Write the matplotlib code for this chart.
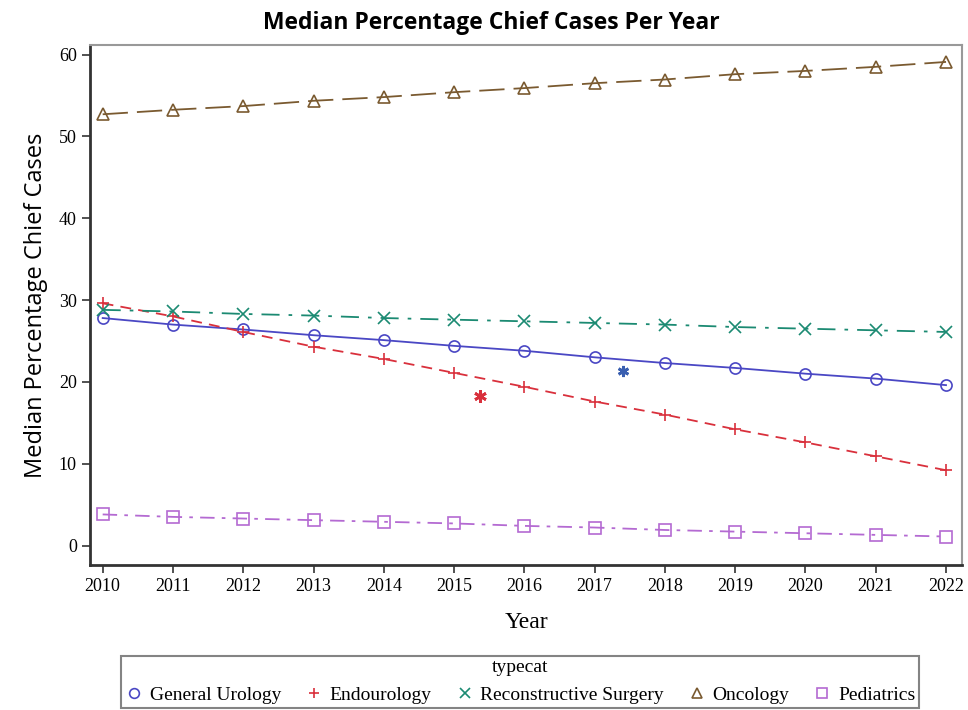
import matplotlib
matplotlib.use("Agg")
from matplotlib import pyplot as plt

years = list(range(2010, 2023))
general_urology = [27.8, 27.0, 26.4, 25.7, 25.1, 24.4, 23.8, 23.0, 22.3, 21.7, 21.0, 20.4, 19.6]
endourology = [29.6, 28.0, 26.1, 24.3, 22.8, 21.1, 19.4, 17.6, 16.0, 14.2, 12.6, 10.9, 9.2]
reconstructive = [28.8, 28.6, 28.3, 28.1, 27.8, 27.6, 27.4, 27.2, 27.0, 26.7, 26.5, 26.3, 26.1]
oncology = [52.7, 53.25, 53.7, 54.35, 54.8, 55.4, 55.9, 56.5, 56.95, 57.6, 58.0, 58.5, 59.1]
pediatrics = [3.8, 3.5, 3.3, 3.1, 2.9, 2.7, 2.4, 2.2, 1.9, 1.7, 1.5, 1.3, 1.1]

# separate highlighted points
star_endo = (2015.37, 18.3)
star_gu = (2017.4, 21.3)

series = [
    ("General Urology", general_urology, "#4a47c4", "o", "-"),
    ("Endourology", endourology, "#d9303c", "+", (0, (6, 4))),
    ("Reconstructive Surgery", reconstructive, "#1b8a72", "x", (0, (10, 5, 2, 5))),
    ("Oncology", oncology, "#7a5a30", "^", (0, (14, 5))),
    ("Pediatrics", pediatrics, "#b46ad2", "s", (0, (8, 4, 2, 4))),
]

serif = "Liberation Serif"
sans = "Open Sans"

fig = plt.figure(figsize=(9.68, 7.1), dpi=100)
ax = fig.add_axes([0.093, 0.204, 0.901, 0.733])

handles = []
for name, vals, col, mk, ls in series:
    ax.plot(years, vals, color=col, linestyle=ls, linewidth=1.3,
            marker=mk, markersize=8, markerfacecolor="none",
            markeredgecolor=col, markeredgewidth=1.2, label=name)
    handles.append(plt.Line2D([], [], color=col, marker=mk, linestyle="none",
                              markersize=7, markerfacecolor="none",
                              markeredgewidth=1.2))

ax.plot(*star_endo, marker=(6, 2, 0), color="#d9303c", markersize=9, markeredgewidth=2)
ax.plot(*star_gu, marker=(6, 2, 0), color="#3a5fb0", markersize=8, markeredgewidth=2)

ax.set_xlim(2009.82, 2022.23)
ax.set_ylim(-2.4, 61.2)
ax.set_xticks(years)
ax.set_yticks(range(0, 61, 10))
for lab in ax.get_xticklabels() + ax.get_yticklabels():
    lab.set_fontfamily(serif)
    lab.set_fontsize(13)
ax.tick_params(length=6, width=1.2, color="#333333")

ax.spines["left"].set_linewidth(2)
ax.spines["bottom"].set_linewidth(2)
ax.spines["left"].set_color("#333333")
ax.spines["bottom"].set_color("#333333")
ax.spines["top"].set_color("#999999")
ax.spines["right"].set_color("#999999")
ax.spines["top"].set_linewidth(1.5)
ax.spines["right"].set_linewidth(1.5)

ax.set_xlabel("Year", fontfamily=serif, fontsize=17, labelpad=12)
ax.set_ylabel("Median Percentage Chief Cases", fontfamily=sans, fontsize=17, labelpad=8)
fig.text(0.508, 0.968, "Median Percentage Chief Cases Per Year", ha="center", va="center",
         fontfamily=sans, fontsize=16.5, fontweight="bold")

leg = fig.legend(handles, [s[0] for s in series], loc="center", ncol=5,
                 bbox_to_anchor=(0.537, 0.04), title="typecat",
                 prop={"family": serif, "size": 14}, frameon=True, fancybox=False,
                 handletextpad=0.3, columnspacing=1.2, borderpad=0.2,
                 handlelength=1.0, borderaxespad=0.0)
leg.get_title().set_fontfamily(serif)
leg.get_title().set_fontsize(14)
leg.get_frame().set_edgecolor("#666666")
leg.get_frame().set_linewidth(1.5)

fig.savefig("out.png", dpi=100)
